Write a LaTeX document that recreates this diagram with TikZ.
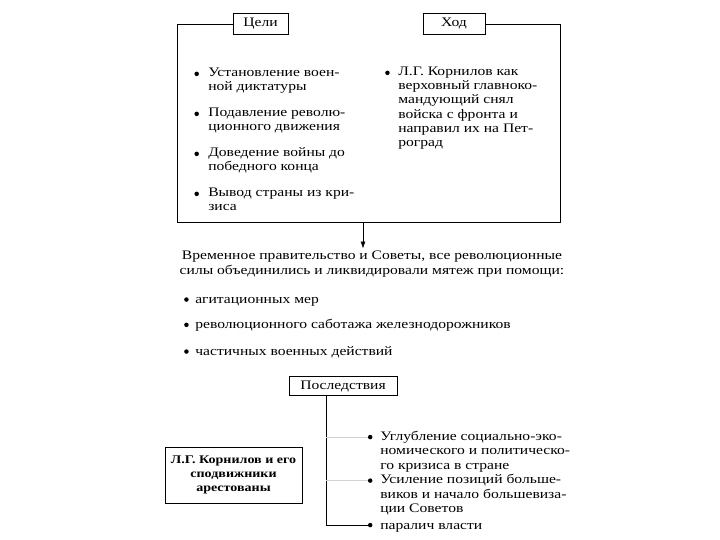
\documentclass[tikz,border=0pt]{standalone}
\usepackage{fontspec}
\setmainfont{Liberation Serif}[FakeStretch=1.2]
\usetikzlibrary{positioning, arrows.meta}

\tikzset{
  headbox/.style={draw, minimum height=21pt, inner sep=2pt, font=\fontsize{13}{14}\selectfont},
  dot/.style={circle, fill=black, inner sep=0pt, minimum size=4.5pt},
  itemtxt/.style={anchor=north west, inner sep=0pt, align=left, font=\fontsize{13}{14.3}\selectfont,
    execute at begin node=\strut},
  widetxt/.style={itemtxt, font=\fontsize{13}{14.6}\selectfont},
  faint/.style={draw=gray!35, line width=0.5pt},
}

\begin{document}
\begin{tikzpicture}[x=1pt, y=-1pt, line width=0.6pt]
\useasboundingbox (0,0) rectangle (720,540);
% frame: aims and course
\node[headbox, minimum width=55pt] (goals) at (260.5,24) {Цели};
\node[headbox, minimum width=62pt] (course) at (454,24) {Ход};
\coordinate (tl) at (177,24);
\coordinate (bl) at (177,222);
\coordinate (br) at (560,222);
\coordinate (tr) at (560,24);
\coordinate (split) at (363,222);
\draw (goals.west) -- (tl) -- (bl) -- (br) -- (tr) -- (course.east);
% aims
\node[itemtxt] (g1t) at (208,67.5) {Установление воен-\\ной диктатуры};
\node[itemtxt] (g2t) at (208,107.5) {Подавление револю-\\ционного движения};
\node[itemtxt] (g3t) at (208,147.5) {Доведение войны до\\победного конца};
\node[itemtxt] (g4t) at (208,187.5) {Вывод страны из кри-\\зиса};
% course
\node[itemtxt] (c1t) at (398,66.5) {Л.Г. Корнилов как\\верховный главноко-\\мандующий снял\\войска с фронта и\\направил их на Пет-\\роград};
% suppression
\node[itemtxt, anchor=north, align=center, font=\fontsize{13}{15.5}\selectfont] (mid) at (372,250.5) {Временное правительство и Советы, все революционные\\силы объединились и ликвидировали мятеж при помощи:};
\draw[-{Latex[length=7pt,width=5pt]}] (split) -- ([yshift=2pt]split |- mid.north);
\node[itemtxt] (m1t) at (195,293.2) {агитационных мер};
\node[itemtxt] (m2t) at (195,318.5) {революционного саботажа железнодорожников};
\node[itemtxt] (m3t) at (195,345.2) {частичных военных действий};
% consequences
\node[headbox, minimum width=108pt, minimum height=19pt] (cons) at (343,386) {Последствия};
\node[draw, minimum width=137pt, minimum height=56pt, align=center, font=\fontsize{11.7}{14.2}\selectfont\bfseries] (arrested) at (233.5,475) {Л.Г. Корнилов и его\\сподвижники\\арестованы};
\node[widetxt] (r1t) at (380,430.5) {Углубление социально-эко-\\номического и политическо-\\го кризиса в стране};
\node[widetxt] (r2t) at (380,474) {Усиление позиций больше-\\виков и начало большевиза-\\ции Советов};
\node[widetxt] (r3t) at (380,518.5) {паралич власти};
% bullets
\foreach \t/\gap/\drop in {g1t/9.5pt/4.55pt, g2t/9.5pt/4.55pt, g3t/9.5pt/4.55pt, g4t/9.5pt/4.55pt,
    c1t/8.75pt/4.55pt, m1t/6.75pt/4.55pt, m2t/6.75pt/4.55pt, m3t/6.75pt/4.55pt,
    r1t/8pt/4.8pt, r2t/8pt/4.8pt, r3t/8pt/4.8pt}
  \node[dot, below left=\drop and \gap of \t.north west] (\t-dot) {};
\coordinate (stem) at (326,0);
\draw (cons.south -| stem) -- (stem |- r3t-dot) -- (r3t-dot);
\draw[faint] (stem |- r1t-dot) -- (r1t-dot);
\draw[faint] (stem |- r2t-dot) -- (r2t-dot);
\end{tikzpicture}
\end{document}
